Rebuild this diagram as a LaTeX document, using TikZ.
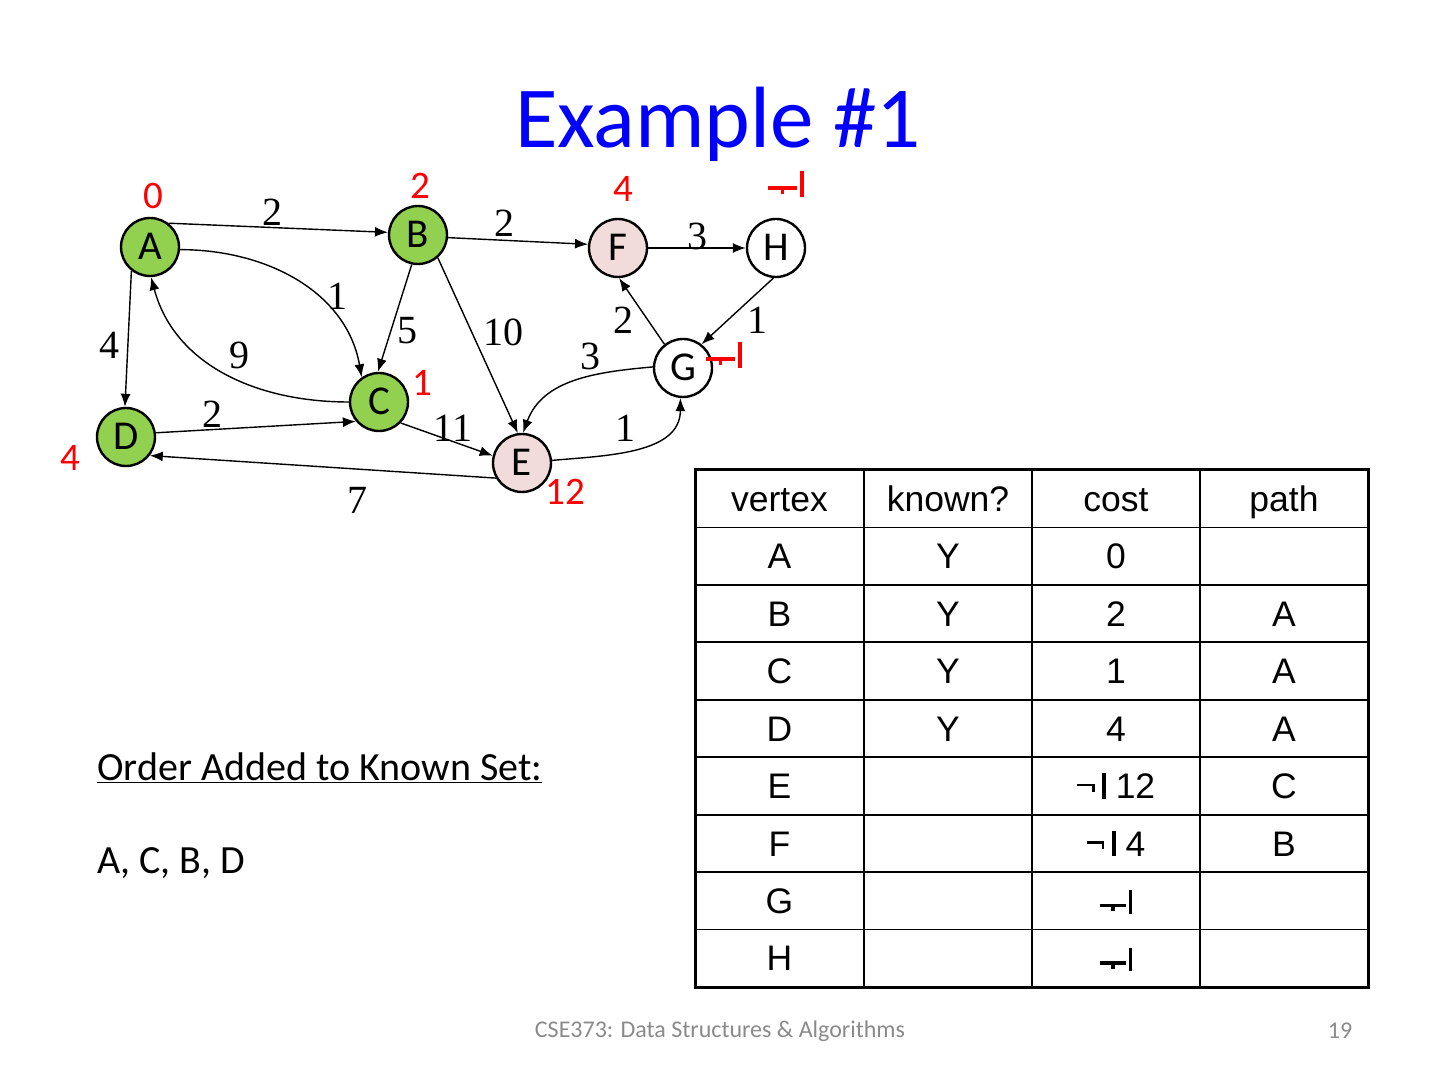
\documentclass[tikz,border=0pt]{standalone}
\usepackage{fontspec}
\setmainfont{Carlito}
\newfontfamily\timesfont{Liberation Serif}
\newfontfamily\arialfont{Liberation Sans}
\usetikzlibrary{arrows.meta,positioning,calc}
\definecolor{knowngreen}{HTML}{92D050}
\definecolor{seenpink}{HTML}{F2DCDB}
\definecolor{footgray}{HTML}{8A8A8A}
% the two broken infinity glyphs
\newcommand\infa{\mbox{\rule[.18em]{.75em}{.09em}\kern-.42em\rule[.06em]{.09em}{.14em}\kern.41em\rule{.09em}{.65em}}}
\newcommand\infb{\mbox{\rule[.35em]{.5em}{.07em}\kern-.08em\rule[.2em]{.08em}{.2em}\kern.22em\rule{.1em}{.72em}}}
\tikzset{vtx/.style={circle,draw,line width=2.4pt,minimum size=58pt,inner sep=0pt,text height=26pt,text depth=-2pt,font=\fontsize{41}{41}\selectfont},
 wt/.style={font=\timesfont\fontsize{40}{40}\selectfont,inner sep=0pt},
 cost/.style={text=red,font=\fontsize{39}{39}\selectfont,inner sep=0pt},
 cell/.style={font=\arialfont\fontsize{35.5}{35.5}\selectfont,text height=25.5pt,text depth=0pt,inner sep=0pt}}

\begin{document}
\begin{tikzpicture}[x=1pt,y=1pt,>={Latex[length=13pt,width=10pt]},e/.style={->,line width=1.4pt}]
\useasboundingbox (0,0) rectangle (1440,1080);
\node[anchor=base,text=blue,font=\fontsize{87}{90}\selectfont] (title) at (718,932) {Example \#1};
% vertices
\node[vtx,fill=knowngreen] (A) at (150,833) {A};\node[vtx,fill=knowngreen] (B) at (418,845) {B};
\node[vtx,fill=seenpink] (F) at (618,832) {F};\node[vtx] (H) at (776,832) {H};
\node[vtx] (G) at (683,712) {G};\node[vtx,fill=knowngreen] (C) at (379,678) {C};
\node[vtx,fill=knowngreen] (D) at (126,643) {D};\node[vtx,fill=seenpink] (E) at (522,617) {E};
% current costs
\node[cost] (cA) at (153,884) {0};\node[cost] (cB) at (420,894) {2};\node[cost] (cF) at (623,891) {4};
\node[cost] (cH) at (786,896) {\infa};\node[cost] (cG) at (724,725) {\infa};\node[cost] (cC) at (422,697) {1};
\node[cost] (cD) at (70,622) {4};\node[cost] (cE) at (565,588) {12};
% edges
\draw[e] (A.52)--(B.175);\draw[e] (B.-5)--(F.173);\draw[e] (F)--(H);
\draw[e] (H.265)--(G.52);\draw[e] (G.128)--(F.-88);\draw[e] (B.258)--(C.92);
\draw[e] (B.-49)--(E.98);\draw[e] (A.232)--(D.92);\draw[e] (D.8)--(C.220);
\draw[e] (C.-44)--(E.166);\draw[e] (E.210)--(D.-38);
\draw[e] (A.-5) to[out=0,in=100] (C.125);\draw[e] (C.180) to[out=180,in=-75] (A.-88);
\draw[e] (G.178) to[out=185,in=70] (E.88);\draw[e] (E.5) to[out=5,in=-90] (G.-95);
% weights
\node[wt] (wAB) at (272,868) {2};\node[wt] (wBF) at (504,857) {2};\node[wt] (wFH) at (697,844) {3};
\node[wt] (wAC) at (337,784) {1};\node[wt] (wGF) at (623,760) {2};\node[wt] (wHG) at (757,760) {1};
\node[wt] (wBC) at (407,749) {5};\node[wt] (wBE) at (503,748) {10};\node[wt] (wAD) at (109,735) {4};
\node[wt] (wCA) at (239,725) {9};\node[wt] (wGE) at (590,724) {3};\node[wt] (wDC) at (212,666) {2};
\node[wt] (wCE) at (453,652) {11};\node[wt] (wEG) at (625,652) {1};\node[wt] (wED) at (357,580) {7};
% table
\foreach \i in {1,...,8} \draw[line width=1.8pt] (695,{610-57.44*\i})--(1368,{610-57.44*\i});
\foreach \x in {864,1032,1200} \draw[line width=1.8pt] (\x,610)--(\x,93);
\draw[line width=3pt] (695,610) rectangle (1368,93);
\foreach \v/\k/\c/\p [count=\i] in {vertex/known?/cost/path,A/Y/0/,B/Y/2/A,C/Y/1/A,D/Y/4/A,E//{\infb\ 12}/C,F//{\infb\ 4}/B,G//\infa/,H//\infa/}{
 \node[cell] (v\i) at (779.5,{610-57.44*(\i-.5)}) {\v};\node[cell] (k\i) at (948,{610-57.44*(\i-.5)}) {\k};
 \node[cell] (c\i) at (1116,{610-57.44*(\i-.5)}) {\c};\node[cell] (p\i) at (1284,{610-57.44*(\i-.5)}) {\p};}
% order and footer
\node[anchor=base west,inner sep=0pt,font=\fontsize{40}{40}\selectfont] (order) at (97,300) {\underline{Order Added to Known Set:}};
\node[anchor=base west,inner sep=0pt,font=\fontsize{40}{40}\selectfont] (seq) at (97,207) {A, C, B, D};
\node[text=footgray,font=\fontsize{24}{24}\selectfont] (foot) at (720,49) {CSE373: Data Structures \& Algorithms};
\node[text=footgray,font=\fontsize{24}{24}\selectfont] (page) at (1340,49) {19};
\end{tikzpicture}
\end{document}
